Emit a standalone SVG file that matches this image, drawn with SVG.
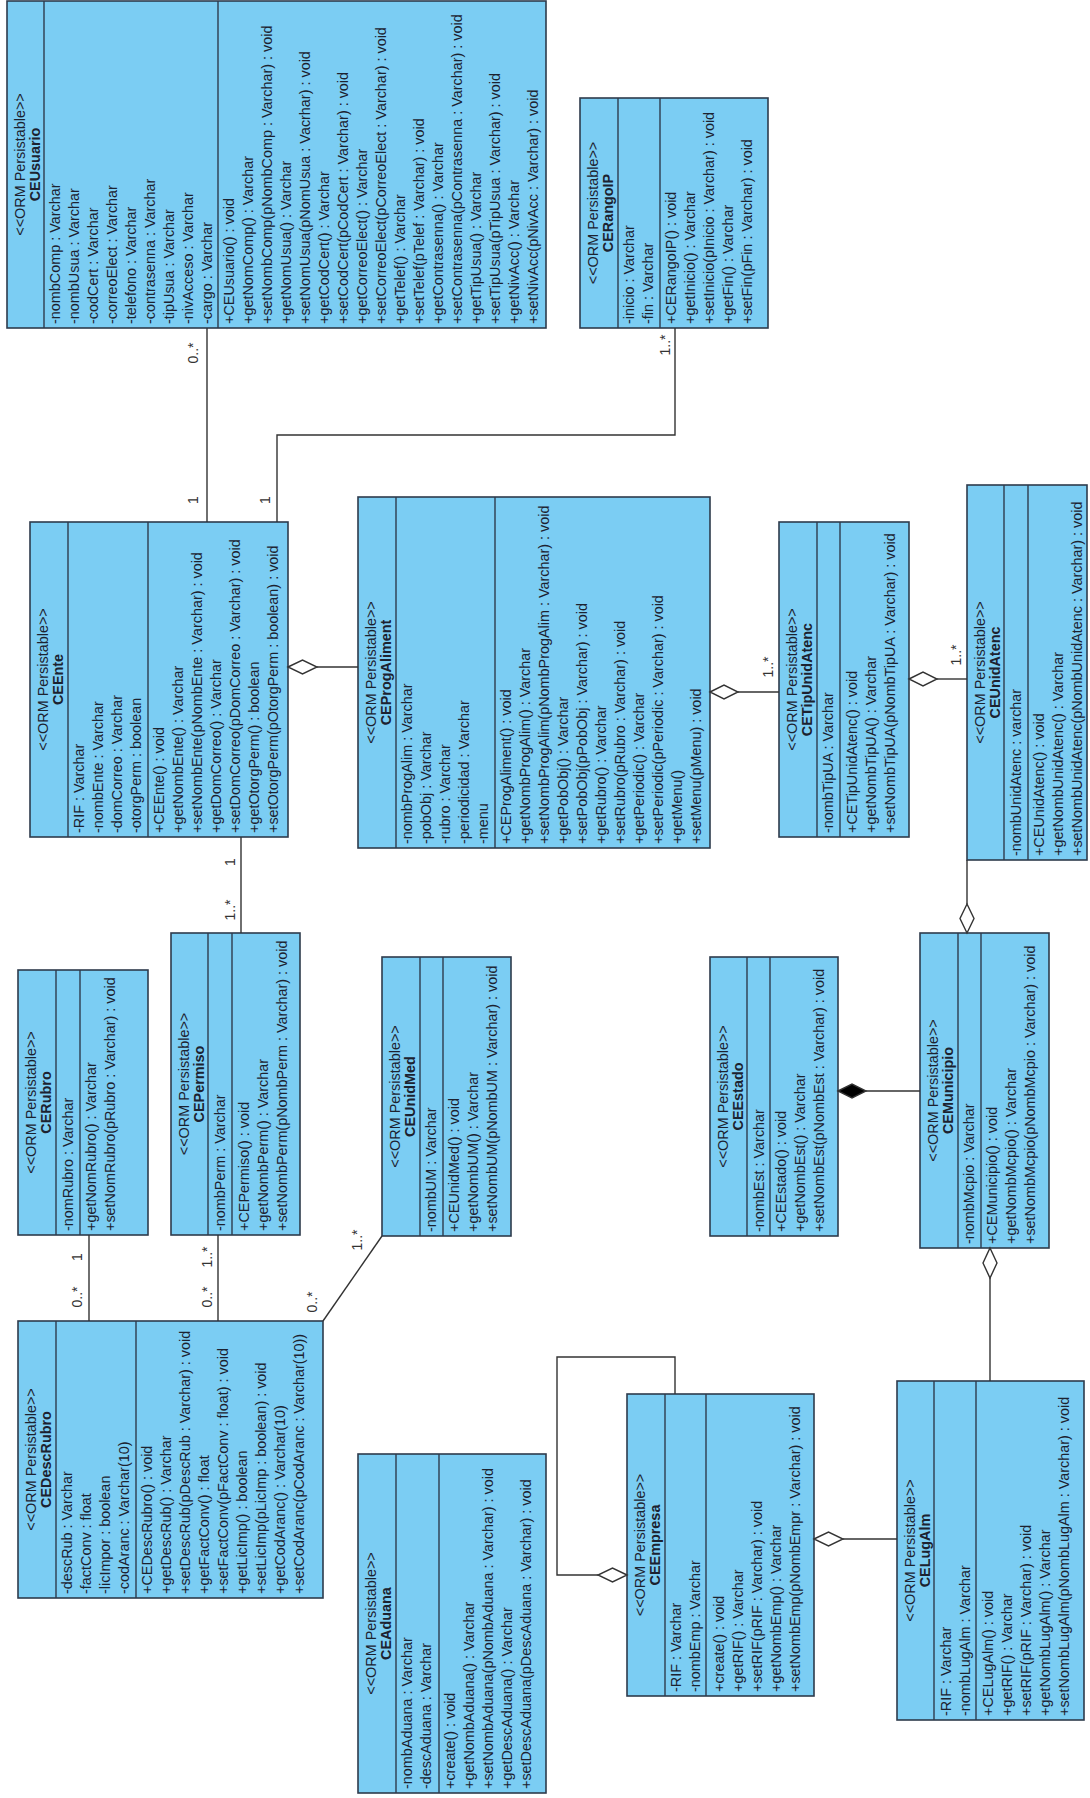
<svg xmlns="http://www.w3.org/2000/svg" width="1090" height="1798" viewBox="0 0 1090 1798">
<style>
  .cls rect { fill: #7bcdf3; stroke: #2e3b4c; stroke-width: 1.6; }
  .cls line { stroke: #2e3b4c; stroke-width: 1.4; }
  text { font-family: "Liberation Sans", Arial, sans-serif; font-size: 14.4px; fill: #1c2230; }
  .st { text-anchor: middle; }
  .nm { text-anchor: middle; font-weight: bold; }
  .edge { fill: none; stroke: #333; stroke-width: 1.4; }
  .dia { fill: #fff; stroke: #333; stroke-width: 1.4; }
  .dia.full { fill: #000; }
  .mult { font-size: 14px; text-anchor: middle; fill: #333; }
</style>
<!-- Whole diagram is laid out landscape and turned a quarter turn counter-clockwise -->
<g transform="translate(0,1798) rotate(-90)">

<g id="CEUsuario" class="cls">
  <rect x="1470" y="7" width="327" height="539"/>
  <line x1="1470" y1="44" x2="1797" y2="44"/>
  <line x1="1470" y1="218" x2="1797" y2="218"/>
  <text class="st" x="1633.5" y="25">&lt;&lt;ORM Persistable&gt;&gt;</text>
  <text class="nm" x="1633.5" y="40">CEUsuario</text>
  <text x="1474" y="60">-nombComp : Varchar</text>
  <text x="1474" y="79">-nombUsua : Varchar</text>
  <text x="1474" y="98">-codCert : Varchar</text>
  <text x="1474" y="117">-correoElect : Varchar</text>
  <text x="1474" y="136">-telefono : Varchar</text>
  <text x="1474" y="155">-contrasenna : Varchar</text>
  <text x="1474" y="174">-tipUsua : Varchar</text>
  <text x="1474" y="193">-nivAcceso : Varchar</text>
  <text x="1474" y="212">-cargo : Varchar</text>
  <text x="1474" y="234">+CEUsuario() : void</text>
  <text x="1474" y="253">+getNomComp() : Varchar</text>
  <text x="1474" y="272">+setNombComp(pNombComp : Varchar) : void</text>
  <text x="1474" y="291">+getNomUsua() : Varchar</text>
  <text x="1474" y="310">+setNomUsua(pNomUsua : Vacrhar) : void</text>
  <text x="1474" y="329">+getCodCert() : Varchar</text>
  <text x="1474" y="348">+setCodCert(pCodCert : Varchar) : void</text>
  <text x="1474" y="367">+getCorreoElect() : Varchar</text>
  <text x="1474" y="386">+setCorreoElect(pCorreoElect : Varchar) : void</text>
  <text x="1474" y="405">+getTelef() : Varchar</text>
  <text x="1474" y="424">+setTelef(pTelef : Varchar) : void</text>
  <text x="1474" y="443">+getContrasenna() : Varchar</text>
  <text x="1474" y="462">+setContrasenna(pContrasenna : Varchar) : void</text>
  <text x="1474" y="481">+getTipUsua() : Varchar</text>
  <text x="1474" y="500">+setTipUsua(pTipUsua : Varchar) : void</text>
  <text x="1474" y="519">+getNivAcc() : Varchar</text>
  <text x="1474" y="538">+setNivAcc(pNivAcc : Varchar) : void</text>
</g>

<g id="CERangoIP" class="cls">
  <rect x="1470" y="580" width="230" height="188"/>
  <line x1="1470" y1="618" x2="1700" y2="618"/>
  <line x1="1470" y1="660" x2="1700" y2="660"/>
  <text class="st" x="1585" y="598">&lt;&lt;ORM Persistable&gt;&gt;</text>
  <text class="nm" x="1585" y="613">CERangoIP</text>
  <text x="1474" y="634">-inicio : Varchar</text>
  <text x="1474" y="653">-fin : Varchar</text>
  <text x="1474" y="676">+CERangoIP() : void</text>
  <text x="1474" y="695">+getInicio() : Varchar</text>
  <text x="1474" y="714">+setInicio(pInicio : Varchar) : void</text>
  <text x="1474" y="733">+getFin() : Varchar</text>
  <text x="1474" y="752">+setFin(pFin : Varchar) : void</text>
</g>

<g id="CEEnte" class="cls">
  <rect x="961" y="30" width="315" height="258"/>
  <line x1="961" y1="68" x2="1276" y2="68"/>
  <line x1="961" y1="148" x2="1276" y2="148"/>
  <text class="st" x="1118.5" y="48">&lt;&lt;ORM Persistable&gt;&gt;</text>
  <text class="nm" x="1118.5" y="63">CEEnte</text>
  <text x="965" y="84">-RIF : Varchar</text>
  <text x="965" y="103">-nombEnte : Varchar</text>
  <text x="965" y="122">-domCorreo : Varchar</text>
  <text x="965" y="141">-otorgPerm : boolean</text>
  <text x="965" y="164">+CEEnte() : void</text>
  <text x="965" y="183">+getNombEnte() : Varchar</text>
  <text x="965" y="202">+setNombEnte(pNombEnte : Varchar) : void</text>
  <text x="965" y="221">+getDomCorreo() : Varchar</text>
  <text x="965" y="240">+setDomCorreo(pDomCorreo : Varchar) : void</text>
  <text x="965" y="259">+getOtorgPerm() : boolean</text>
  <text x="965" y="278">+setOtorgPerm(pOtorgPerm : boolean) : void</text>
</g>

<g id="CEProgAliment" class="cls">
  <rect x="950" y="358" width="351" height="352"/>
  <line x1="950" y1="396" x2="1301" y2="396"/>
  <line x1="950" y1="495" x2="1301" y2="495"/>
  <text class="st" x="1125.5" y="376">&lt;&lt;ORM Persistable&gt;&gt;</text>
  <text class="nm" x="1125.5" y="391">CEProgAliment</text>
  <text x="954" y="412">-nombProgAlim : Varchar</text>
  <text x="954" y="431">-pobObj : Varchar</text>
  <text x="954" y="450">-rubro : Varchar</text>
  <text x="954" y="469">-periodicidad : Varchar</text>
  <text x="954" y="488">-menu</text>
  <text x="954" y="511">+CEProgAliment() : void</text>
  <text x="954" y="530">+getNombProgAlim() : Varchar</text>
  <text x="954" y="549">+setNombProgAlim(pNombProgAlim : Varchar) : void</text>
  <text x="954" y="568">+getPobObj() : Varchar</text>
  <text x="954" y="587">+setPobObj(pPobObj : Varchar) : void</text>
  <text x="954" y="606">+getRubro() : Varchar</text>
  <text x="954" y="625">+setRubro(pRubro : Varchar) : void</text>
  <text x="954" y="644">+getPeriodic() : Varchar</text>
  <text x="954" y="663">+setPeriodic(pPeriodic : Varchar) : void</text>
  <text x="954" y="682">+getMenu()</text>
  <text x="954" y="701">+setMenu(pMenu) : void</text>
</g>

<g id="CETipUnidAtenc" class="cls">
  <rect x="961" y="779" width="315" height="130"/>
  <line x1="961" y1="817" x2="1276" y2="817"/>
  <line x1="961" y1="840" x2="1276" y2="840"/>
  <text class="st" x="1118.5" y="797">&lt;&lt;ORM Persistable&gt;&gt;</text>
  <text class="nm" x="1118.5" y="812">CETipUnidAtenc</text>
  <text x="965" y="833">-nombTipUA : Varchar</text>
  <text x="965" y="857">+CETipUnidAtenc() : void</text>
  <text x="965" y="876">+getNombTipUA() : Varchar</text>
  <text x="965" y="895">+setNombTipUA(pNombTipUA : Varchar) : void</text>
</g>

<g id="CEUnidAtenc" class="cls">
  <rect x="938" y="967" width="375" height="120"/>
  <line x1="938" y1="1004" x2="1313" y2="1004"/>
  <line x1="938" y1="1028" x2="1313" y2="1028"/>
  <text class="st" x="1125.5" y="985">&lt;&lt;ORM Persistable&gt;&gt;</text>
  <text class="nm" x="1125.5" y="1000">CEUnidAtenc</text>
  <text x="942" y="1021">-nombUnidAtenc : varchar</text>
  <text x="942" y="1044">+CEUnidAtenc() : void</text>
  <text x="942" y="1063">+getNombUnidAtenc() : Varchar</text>
  <text x="942" y="1082">+setNombUnidAtenc(pNombUnidAtenc : Varchar) : void</text>
</g>

<g id="CERubro" class="cls">
  <rect x="563" y="18" width="265" height="130"/>
  <line x1="563" y1="56" x2="828" y2="56"/>
  <line x1="563" y1="80" x2="828" y2="80"/>
  <text class="st" x="695.5" y="36">&lt;&lt;ORM Persistable&gt;&gt;</text>
  <text class="nm" x="695.5" y="51">CERubro</text>
  <text x="567" y="73">-nomRubro : Varchar</text>
  <text x="567" y="96">+getNomRubro() : Varchar</text>
  <text x="567" y="115">+setNomRubro(pRubro : Varchar) : void</text>
</g>

<g id="CEPermiso" class="cls">
  <rect x="563" y="171" width="302" height="129"/>
  <line x1="563" y1="208" x2="865" y2="208"/>
  <line x1="563" y1="232" x2="865" y2="232"/>
  <text class="st" x="714" y="189">&lt;&lt;ORM Persistable&gt;&gt;</text>
  <text class="nm" x="714" y="204">CEPermiso</text>
  <text x="567" y="225">-nombPerm : Varchar</text>
  <text x="567" y="249">+CEPermiso() : void</text>
  <text x="567" y="268">+getNombPerm() : Varchar</text>
  <text x="567" y="287">+setNombPerm(pNombPerm : Varchar) : void</text>
</g>

<g id="CEUnidMed" class="cls">
  <rect x="562" y="382" width="279" height="129"/>
  <line x1="562" y1="420" x2="841" y2="420"/>
  <line x1="562" y1="443" x2="841" y2="443"/>
  <text class="st" x="701.5" y="400">&lt;&lt;ORM Persistable&gt;&gt;</text>
  <text class="nm" x="701.5" y="415">CEUnidMed</text>
  <text x="566" y="436">-nombUM : Varchar</text>
  <text x="566" y="459">+CEUnidMed() : void</text>
  <text x="566" y="478">+getNombUM() : Varchar</text>
  <text x="566" y="497">+setNombUM(pNombUM : Varchar) : void</text>
</g>

<g id="CEEstado" class="cls">
  <rect x="562" y="710" width="279" height="128"/>
  <line x1="562" y1="747" x2="841" y2="747"/>
  <line x1="562" y1="770" x2="841" y2="770"/>
  <text class="st" x="701.5" y="728">&lt;&lt;ORM Persistable&gt;&gt;</text>
  <text class="nm" x="701.5" y="743">CEEstado</text>
  <text x="566" y="764">-nombEst : Varchar</text>
  <text x="566" y="786">+CEEstado() : void</text>
  <text x="566" y="805">+getNombEst() : Varchar</text>
  <text x="566" y="824">+setNombEst(pNombEst : Varchar) : void</text>
</g>

<g id="CEMunicipio" class="cls">
  <rect x="550" y="920" width="315" height="129"/>
  <line x1="550" y1="958" x2="865" y2="958"/>
  <line x1="550" y1="981" x2="865" y2="981"/>
  <text class="st" x="707.5" y="938">&lt;&lt;ORM Persistable&gt;&gt;</text>
  <text class="nm" x="707.5" y="953">CEMunicipio</text>
  <text x="554" y="974">-nombMcpio : Varchar</text>
  <text x="554" y="997">+CEMunicipio() : void</text>
  <text x="554" y="1016">+getNombMcpio() : Varchar</text>
  <text x="554" y="1035">+setNombMcpio(pNombMcpio : Varchar) : void</text>
</g>

<g id="CEDescRubro" class="cls">
  <rect x="200" y="18" width="277" height="305"/>
  <line x1="200" y1="56" x2="477" y2="56"/>
  <line x1="200" y1="136" x2="477" y2="136"/>
  <text class="st" x="338.5" y="36">&lt;&lt;ORM Persistable&gt;&gt;</text>
  <text class="nm" x="338.5" y="51">CEDescRubro</text>
  <text x="204" y="72">-descRub : Varchar</text>
  <text x="204" y="91">-factConv : float</text>
  <text x="204" y="110">-licImpor : boolean</text>
  <text x="204" y="129">-codAranc : Varchar(10)</text>
  <text x="204" y="152">+CEDescRubro() : void</text>
  <text x="204" y="171">+getDescRub() : Varchar</text>
  <text x="204" y="190">+setDescRub(pDescRub : Varchar) : void</text>
  <text x="204" y="209">+getFactConv() : float</text>
  <text x="204" y="228">+setFactConv(pFactConv : float) : void</text>
  <text x="204" y="247">+getLicImp() : boolean</text>
  <text x="204" y="266">+setLicImp(pLicImp : boolean) : void</text>
  <text x="204" y="285">+getCodAranc() : Varchar(10)</text>
  <text x="204" y="304">+setCodAranc(pCodAranc : Varchar(10))</text>
</g>

<g id="CEAduana" class="cls">
  <rect x="5" y="358" width="339" height="188"/>
  <line x1="5" y1="396" x2="344" y2="396"/>
  <line x1="5" y1="439" x2="344" y2="439"/>
  <text class="st" x="174.5" y="376">&lt;&lt;ORM Persistable&gt;&gt;</text>
  <text class="nm" x="174.5" y="391">CEAduana</text>
  <text x="9" y="412">-nombAduana : Varchar</text>
  <text x="9" y="431">-descAduana : Varchar</text>
  <text x="9" y="455">+create() : void</text>
  <text x="9" y="474">+getNombAduana() : Varchar</text>
  <text x="9" y="493">+setNombAduana(pNombAduana : Varchar) : void</text>
  <text x="9" y="512">+getDescAduana() : Varchar</text>
  <text x="9" y="531">+setDescAduana(pDescAduana : Varchar) : void</text>
</g>

<g id="CEEmpresa" class="cls">
  <rect x="102" y="627" width="302" height="187"/>
  <line x1="102" y1="665" x2="404" y2="665"/>
  <line x1="102" y1="706" x2="404" y2="706"/>
  <text class="st" x="253" y="645">&lt;&lt;ORM Persistable&gt;&gt;</text>
  <text class="nm" x="253" y="660">CEEmpresa</text>
  <text x="106" y="681">-RIF : Varchar</text>
  <text x="106" y="700">-nombEmp : Varchar</text>
  <text x="106" y="724">+create() : void</text>
  <text x="106" y="743">+getRIF() : Varchar</text>
  <text x="106" y="762">+setRIF(pRIF : Varchar) : void</text>
  <text x="106" y="781">+getNombEmp() : Varchar</text>
  <text x="106" y="800">+setNombEmp(pNombEmpr : Varchar) : void</text>
</g>

<g id="CELugAlm" class="cls">
  <rect x="78" y="897" width="339" height="187"/>
  <line x1="78" y1="934" x2="417" y2="934"/>
  <line x1="78" y1="976" x2="417" y2="976"/>
  <text class="st" x="247.5" y="915">&lt;&lt;ORM Persistable&gt;&gt;</text>
  <text class="nm" x="247.5" y="930">CELugAlm</text>
  <text x="82" y="951">-RIF : Varchar</text>
  <text x="82" y="970">-nombLugAlm : Varchar</text>
  <text x="82" y="993">+CELugAlm() : void</text>
  <text x="82" y="1012">+getRIF() : Varchar</text>
  <text x="82" y="1031">+setRIF(pRIF : Varchar) : void</text>
  <text x="82" y="1050">+getNombLugAlm() : Varchar</text>
  <text x="82" y="1069">+setNombLugAlm(pNombLugAlm : Varchar) : void</text>
</g>

<g id="connectors">
  <!-- CEUsuario - CEEnte -->
  <polyline class="edge" points="1470,207 1276,207"/>
  <text class="mult" x="1445" y="198">0..*</text>
  <text class="mult" x="1298" y="198">1</text>
  <!-- CERangoIP - CEEnte -->
  <polyline class="edge" points="1470,675 1363,675 1363,277 1276,277"/>
  <text class="mult" x="1453" y="670">1..*</text>
  <text class="mult" x="1298" y="270">1</text>
  <!-- CEEnte <>- CEProgAliment -->
  <polyline class="edge" points="1131,317 1131,358"/>
  <polygon class="dia" points="1131,288 1138,302.5 1131,317 1124,302.5"/>
  <!-- CEProgAliment <>- CETipUnidAtenc -->
  <polyline class="edge" points="1106,738 1106,779"/>
  <polygon class="dia" points="1106,710 1113,724 1106,738 1099,724"/>
  <text class="mult" x="1131" y="773">1..*</text>
  <!-- CETipUnidAtenc <>- CEUnidAtenc -->
  <polyline class="edge" points="1119,937 1119,967"/>
  <polygon class="dia" points="1119,909 1126,923 1119,937 1112,923"/>
  <text class="mult" x="1143" y="961">1..*</text>
  <!-- CEMunicipio <>- CEUnidAtenc -->
  <polyline class="edge" points="938,967 894,967"/>
  <polygon class="dia" points="894,967 879.5,974 865,967 879.5,960"/>
  <!-- CEEstado <#>- CEMunicipio -->
  <polyline class="edge" points="707,866 707,920"/>
  <polygon class="dia full" points="707,838 714,852 707,866 700,852"/>
  <!-- CEMunicipio <>- CELugAlm -->
  <polyline class="edge" points="520,990 417,990"/>
  <polygon class="dia" points="550,990 535,997 520,990 535,983"/>
  <!-- CEEmpresa <>- CELugAlm -->
  <polyline class="edge" points="259,843 259,897"/>
  <polygon class="dia" points="259,814 266,828.5 259,843 252,828.5"/>
  <!-- CEEmpresa self aggregation -->
  <polyline class="edge" points="223,598 223,557 441,557 441,675 404,675"/>
  <polygon class="dia" points="223,627 230,612.5 223,598 216,612.5"/>
  <!-- CERubro - CEDescRubro -->
  <polyline class="edge" points="563,89 477,89"/>
  <text class="mult" x="541" y="82">1</text>
  <text class="mult" x="501" y="82">0..*</text>
  <!-- CEPermiso - CEDescRubro -->
  <polyline class="edge" points="563,218 477,218"/>
  <text class="mult" x="541" y="212">1..*</text>
  <text class="mult" x="501" y="212">0..*</text>
  <!-- CEPermiso - CEEnte -->
  <polyline class="edge" points="865,241 961,241"/>
  <text class="mult" x="888" y="235">1..*</text>
  <text class="mult" x="936" y="235">1</text>
  <!-- CEUnidMed - CEDescRubro -->
  <polyline class="edge" points="562,382 477,323"/>
  <text class="mult" x="558" y="362">1..*</text>
  <text class="mult" x="496" y="317">0..*</text>
</g>

</g>
</svg>
